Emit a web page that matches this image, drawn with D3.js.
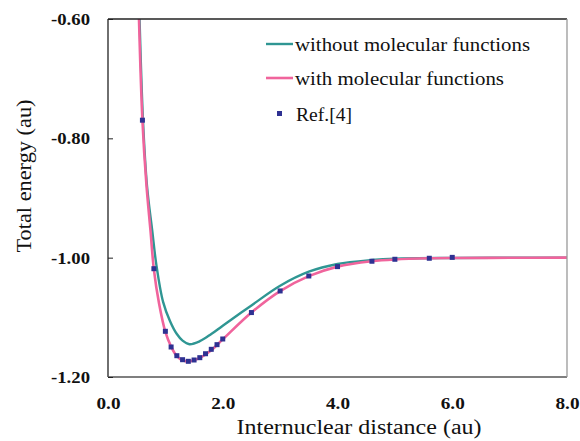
<!DOCTYPE html>
<html>
<head>
<meta charset="utf-8">
<script src="https://d3js.org/d3.v7.min.js"></script>
<style>
  body { margin: 0; background: #fff; }
  text { font-family: "Liberation Serif", "Times New Roman", serif; fill: #111; }
</style>
</head>
<body>
<svg id="chart" width="580" height="441"></svg>
<script>
// values
var withoutR = [0.55, 0.61, 0.68, 0.77, 0.84, 0.96, 1.08, 1.2, 1.3, 1.42, 1.6, 1.8, 2.0, 2.5, 3.0, 3.5, 4.0, 4.6, 5.0, 6.0, 7.0, 8.0];
var withoutE = [-0.60, -0.77, -0.88, -0.954, -1.01, -1.074, -1.106, -1.128, -1.139, -1.145, -1.140, -1.128, -1.114, -1.080, -1.047, -1.0235, -1.0106, -1.004, -1.0017, -1.0005, -1.0002, -1.0];

var withR = [0.54, 0.6, 0.67, 0.74, 0.8, 0.89, 1.0, 1.1, 1.2, 1.3, 1.4, 1.5, 1.6, 1.8, 2.0, 2.5, 3.0, 3.5, 4.0, 4.6, 5.0, 5.6, 6.0, 7.0, 8.0];
var withE = [-0.60, -0.77, -0.878, -0.954, -1.02, -1.077, -1.1245, -1.149, -1.165, -1.172, -1.174, -1.172, -1.168, -1.155, -1.137, -1.092, -1.056, -1.031, -1.015, -1.006, -1.003, -1.001, -1.0005, -1.0002, -1.0];

var refR = [0.6, 0.8, 1.0, 1.1, 1.2, 1.3, 1.4, 1.5, 1.6, 1.7, 1.8, 1.9, 2.0, 2.5, 3.0, 3.5, 4.0, 4.6, 5.0, 5.6, 6.0];
var refE = [-0.7696, -1.0185, -1.1234, -1.1497, -1.1643, -1.171, -1.1737, -1.1715, -1.1676, -1.161, -1.1536, -1.1458, -1.1363, -1.092, -1.0558, -1.0307, -1.015, -1.006, -1.0027, -1.001, -0.9995];

var xTicks = [0, 2, 4, 6, 8];
var yTicks = [-0.6, -0.8, -1.0, -1.2];
var legendLabels = ["without molecular functions", "with molecular functions", "Ref.[4]"];

var svg = d3.select("#chart");
var pLeft = 108, pRight = 567, pTop = 19, pBottom = 377;

var x = d3.scaleLinear().domain([0, 8]).range([pLeft, pRight]);
var y = d3.scaleLinear().domain([-1.2, -0.6]).range([pBottom, pTop]);

svg.append("clipPath").attr("id", "plotclip")
  .append("rect").attr("x", pLeft).attr("y", pTop)
  .attr("width", pRight - pLeft).attr("height", pBottom - pTop);

var line = d3.line()
  .x(function(d) { return x(d[0]); })
  .y(function(d) { return y(d[1]); })
  .curve(d3.curveCatmullRom.alpha(0.5));

var plot = svg.append("g").attr("clip-path", "url(#plotclip)");

plot.append("path")
  .datum(withoutR.map(function(r, i) { return [r, withoutE[i]]; }))
  .attr("d", line)
  .attr("fill", "none")
  .attr("stroke", "#2f9693")
  .attr("stroke-width", 2.4);

plot.append("path")
  .datum(withR.map(function(r, i) { return [r, withE[i]]; }))
  .attr("d", line)
  .attr("fill", "none")
  .attr("stroke", "#f0649c")
  .attr("stroke-width", 2.6);

plot.selectAll("rect.ref")
  .data(refR.map(function(r, i) { return [r, refE[i]]; }))
  .enter().append("rect")
  .attr("class", "ref")
  .attr("x", function(d) { return x(d[0]) - 2.5; })
  .attr("y", function(d) { return y(d[1]) - 2.5; })
  .attr("width", 5)
  .attr("height", 5)
  .attr("fill", "#2e3192");

// frame
svg.append("line").attr("x1", pLeft).attr("x2", pRight).attr("y1", pTop).attr("y2", pTop)
  .attr("stroke", "#222").attr("stroke-width", 1.3);
svg.append("line").attr("x1", pLeft).attr("x2", pLeft).attr("y1", pTop).attr("y2", pBottom)
  .attr("stroke", "#222").attr("stroke-width", 1.3);
svg.append("line").attr("x1", pLeft).attr("x2", pRight).attr("y1", pBottom).attr("y2", pBottom)
  .attr("stroke", "#555").attr("stroke-width", 1.3);
svg.append("line").attr("x1", pRight).attr("x2", pRight).attr("y1", pTop).attr("y2", pBottom)
  .attr("stroke", "#999").attr("stroke-width", 1.3);

// y axis: ticks inside, bold labels
var yAxis = svg.append("g")
  .attr("transform", "translate(" + pLeft + ",0)")
  .call(d3.axisRight(y).tickValues(yTicks).tickSize(5).tickFormat(d3.format(".2f")));
yAxis.select(".domain").remove();
yAxis.selectAll("line").attr("stroke", "#222");
yAxis.selectAll("text")
  .attr("x", -18)
  .attr("dy", "0.35em")
  .attr("text-anchor", "end")
  .attr("font-size", 16)
  .attr("font-weight", "bold")
  .attr("font-family", "Liberation Serif, serif")
  .attr("fill", "#111")
  .attr("textLength", 39)
  .attr("lengthAdjust", "spacingAndGlyphs")
  .text(function(d) { return d3.format(".2f")(d).replace("\u2212", "-"); });

// x axis: labels only
var xAxis = svg.append("g")
  .attr("transform", "translate(0," + pBottom + ")")
  .call(d3.axisBottom(x).tickValues(xTicks).tickSize(0).tickFormat(d3.format(".1f")));
xAxis.select(".domain").remove();
xAxis.selectAll("text")
  .attr("y", 32)
  .attr("dy", 0)
  .attr("font-size", 16)
  .attr("font-weight", "bold")
  .attr("font-family", "Liberation Serif, serif")
  .attr("fill", "#111")
  .attr("textLength", 24)
  .attr("lengthAdjust", "spacingAndGlyphs");

// axis titles
svg.append("text")
  .attr("x", 359).attr("y", 434)
  .attr("text-anchor", "middle")
  .attr("font-size", 20)
  .attr("textLength", 245)
  .attr("lengthAdjust", "spacingAndGlyphs")
  .text("Internuclear distance (au)");

svg.append("text")
  .attr("transform", "translate(31,176) rotate(-90)")
  .attr("text-anchor", "middle")
  .attr("font-size", 20)
  .attr("textLength", 153)
  .attr("lengthAdjust", "spacingAndGlyphs")
  .text("Total energy (au)");

// legend
var legend = svg.append("g");
legend.append("line").attr("x1", 266).attr("x2", 293).attr("y1", 44).attr("y2", 44)
  .attr("stroke", "#2f9693").attr("stroke-width", 2.4);
legend.append("line").attr("x1", 266).attr("x2", 293).attr("y1", 78).attr("y2", 78)
  .attr("stroke", "#f0649c").attr("stroke-width", 2.6);
legend.append("rect").attr("x", 277).attr("y", 111).attr("width", 5).attr("height", 5)
  .attr("fill", "#2e3192");
legend.append("text").attr("x", 295).attr("y", 51).attr("font-size", 18)
  .attr("textLength", 235).attr("lengthAdjust", "spacingAndGlyphs").text(legendLabels[0]);
legend.append("text").attr("x", 295).attr("y", 85).attr("font-size", 18)
  .attr("textLength", 209).attr("lengthAdjust", "spacingAndGlyphs").text(legendLabels[1]);
legend.append("text").attr("x", 296).attr("y", 121).attr("font-size", 18)
  .attr("textLength", 56).attr("lengthAdjust", "spacingAndGlyphs").text(legendLabels[2]);
</script>
</body>
</html>
